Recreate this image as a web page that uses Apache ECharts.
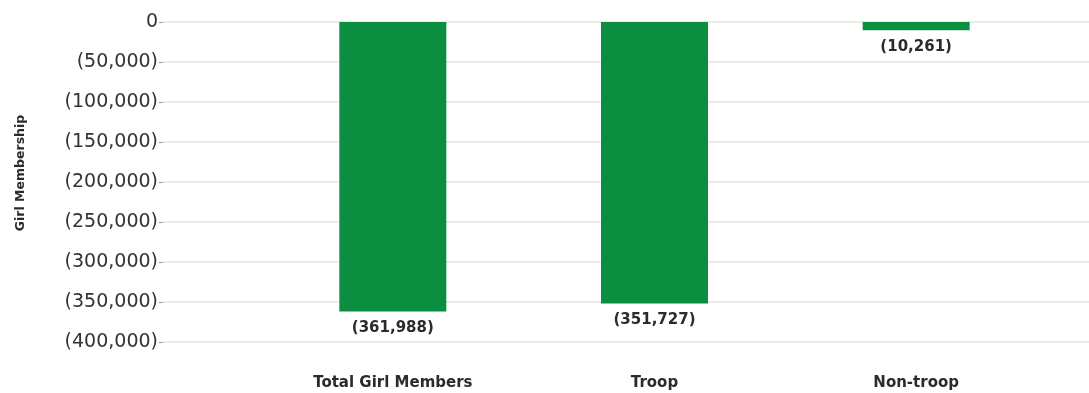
<!DOCTYPE html>
<html>
<head>
<meta charset="utf-8">
<script src="https://cdn.jsdelivr.net/npm/echarts@6/dist/echarts.min.js"></script>
<style>
  html, body { margin: 0; padding: 0; background: #ffffff; }
  #chart { width: 1089px; height: 393px; }
</style>
</head>
<body>
<div id="chart"></div>
<script>
// Girl membership change by category
const categories = ['Total Girl Members', 'Troop', 'Non-troop'];
const membership = [-361988, -351727, -10261];
const yTicks = [0, -50000, -100000, -150000, -200000, -250000, -300000, -350000, -400000];

const yMin = yTicks[yTicks.length - 1];
const yMax = yTicks[0];
const FONT = '"DejaVu Sans", "Open Sans", sans-serif';

function paren(v) {
  if (v === 0) return '0';
  const s = Math.abs(v).toLocaleString('en-US');
  return v < 0 ? '(' + s + ')' : s;
}

const chart = echarts.init(document.getElementById('chart'), null, { renderer: 'canvas' });

chart.setOption({
  animation: false,
  backgroundColor: '#ffffff',
  grid: [
    // full-width grid that carries the value axis and its gridlines
    { left: 163, right: 0, top: 22, bottom: 51 },
    // narrower grid where the three bars sit
    { left: 262, right: 42, top: 22, bottom: 51 }
  ],
  xAxis: [
    { gridIndex: 0, type: 'category', data: categories, show: false },
    {
      gridIndex: 1,
      type: 'category',
      data: categories,
      position: 'bottom',
      axisLine: { show: false, onZero: false },
      axisTick: { show: false },
      axisLabel: {
        margin: 34,
        color: '#2b2b2b',
        fontFamily: FONT,
        fontWeight: 'bold',
        fontSize: 15
      }
    }
  ],
  yAxis: [
    {
      gridIndex: 0,
      type: 'value',
      min: yMin,
      max: yMax,
      interval: 50000,
      name: 'Girl Membership',
      nameLocation: 'middle',
      nameGap: 136,
      nameTextStyle: {
        color: '#2b2b2b',
        fontFamily: FONT,
        fontWeight: 'bold',
        fontSize: 12.5,
        padding: [0, 0, 0, 18]
      },
      axisLine: { show: false },
      axisTick: { show: true, length: 4, lineStyle: { color: '#9a9a9a' } },
      axisLabel: {
        margin: 5,
        color: '#333333',
        fontFamily: FONT,
        fontSize: 19,
        padding: [4, 0, 0, 0],
        formatter: paren
      },
      splitLine: { show: true, lineStyle: { color: '#e2e9d9', width: 1.5 } }
    },
    {
      gridIndex: 1,
      type: 'value',
      min: yMin,
      max: yMax,
      interval: 50000,
      show: false,
      splitLine: { show: false }
    }
  ],
  series: [
    {
      type: 'bar',
      xAxisIndex: 1,
      yAxisIndex: 1,
      data: membership,
      barWidth: 107,
      itemStyle: { color: '#0c8e40' },
      label: {
        show: true,
        position: 'bottom',
        distance: 9,
        color: '#2b2b2b',
        fontFamily: FONT,
        fontWeight: 'bold',
        fontSize: 15,
        formatter: p => paren(p.value)
      }
    }
  ]
});
</script>
</body>
</html>
